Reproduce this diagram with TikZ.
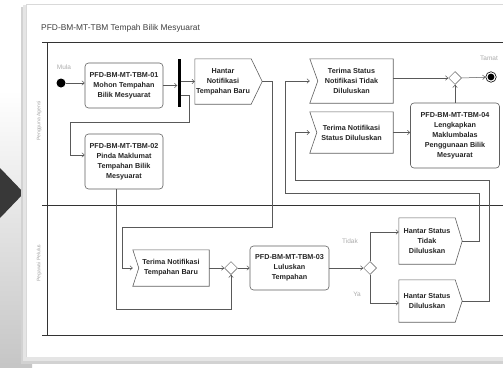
\documentclass[tikz,border=0pt]{standalone}
\usepackage{fontspec}
\setmainfont{Liberation Sans}
\usetikzlibrary{arrows.meta,shapes.geometric}
\tikzset{
  txt/.style={font=\bfseries\fontsize{7.2}{10}\selectfont, text=black!85, align=center, inner sep=0pt},
  actbox/.style={txt, draw=gray!75!black, line width=0.6pt, rounded corners=3.5pt},
  sigbox/.style={txt},
  sigline/.style={draw=gray!75!black, line width=0.6pt},
  flow/.style={draw=gray!70!black, line width=0.5pt, -{Straight Barb[length=2.5pt,width=4.5pt]}},
  merge/.style={diamond, draw=gray!70!black, fill=white, minimum size=13pt, inner sep=0pt, line width=0.5pt},
  lbl/.style={font=\fontsize{6.5}{7}\selectfont, text=gray!65, inner sep=0pt},
  lanelbl/.style={font=\fontsize{5}{6}\selectfont, text=gray!70, inner sep=0pt, rotate=90},
  pool/.style={draw=black!80, line width=0.9pt}
}
\begin{document}
\begin{tikzpicture}[x=1pt,y=-1pt]
\useasboundingbox (0,0) rectangle (503,367);
% background
\fill[white] (0,0) rectangle (503,367);
\shade[top color=white, bottom color=gray!45] (0,90) rectangle (32,367);
\fill[black!78] (0,168) -- (24,193) -- (0,218) -- cycle;
% panel with shadow
\fill[gray!35] (21,7) rectangle (503,364);
\fill[gray!20] (23,5) rectangle (503,361);
\fill[white] (26,4) rectangle (503,357);
\draw[gray!30, line width=0.5pt] (26,357) -- (26,4) -- (503,4);
% title
\node[anchor=west, font=\fontsize{8.4}{10}\selectfont, text=black!75, inner sep=0pt] (title) at (41,28) {PFD-BM-MT-TBM Tempah Bilik Mesyuarat};
% pool lines
\draw[pool] (42,42) -- (503,42);
\draw[pool] (42,205) -- (503,205);
\draw[pool] (42,335) -- (503,335);
\draw[pool] (47,42) -- (47,335);
\node[lanelbl] (lane1) at (39,121) {Pengguna Agensi};
\node[lanelbl] (lane2) at (39,263) {Pegawai Pelulus};
% nodes
\node[circle, fill=black, minimum size=9pt, inner sep=0pt] (start) at (61,83) {};
\node[lbl] (mula) at (64,67) {Mula};
\node[actbox, minimum width=78pt, minimum height=45pt] (n01) at (124,85.5) {PFD-BM-MT-TBM-01\\Mohon Tempahan\\Bilik Mesyuarat};
\node[fill=black, minimum width=3pt, minimum height=48pt, inner sep=0pt] (fork) at (179,83) {};
\node[sigbox, minimum width=56pt, minimum height=45pt] (hn) at (223,81.5) {Hantar\\Notifikasi\\Tempahan Baru};
\coordinate (hntip) at ([xshift=11pt]hn.east);
\draw[sigline] (hn.north west) -- (hn.north east) -- (hntip) -- (hn.south east) -- (hn.south west) -- cycle;
\node[actbox, minimum width=78pt, minimum height=55pt] (n02) at (124,161.5) {PFD-BM-MT-TBM-02\\Pinda Maklumat\\Tempahan Bilik\\Mesyuarat};
\node[sigbox, minimum width=76pt, minimum height=36pt] (tn) at (171,268) {Terima Notifikasi\\Tempahan Baru};
\draw[sigline] (tn.north west) -- (tn.north east) -- (tn.south east) -- (tn.south west) -- ([xshift=6pt]tn.west) -- cycle;
\node[merge] (mg1) at (231,268) {};
\node[actbox, minimum width=79pt, minimum height=44pt] (n03) at (289.5,268) {PFD-BM-MT-TBM-03\\Luluskan\\Tempahan};
\node[merge] (dec) at (370,268) {};
\node[lbl] (tidak) at (350,241) {Tidak};
\node[lbl] (ya) at (357,294) {Ya};
\node[sigbox, minimum width=56pt, minimum height=46pt] (hst) at (427,241) {Hantar Status\\Tidak\\Diluluskan};
\coordinate (hsttip) at ([xshift=7pt]hst.east);
\draw[sigline] (hst.north west) -- (hst.north east) -- (hsttip) -- (hst.south east) -- (hst.south west) -- cycle;
\node[sigbox, minimum width=56pt, minimum height=42pt] (hsd) at (427,301) {Hantar Status\\Diluluskan};
\coordinate (hsdtip) at ([xshift=7pt]hsd.east);
\draw[sigline] (hsd.north west) -- (hsd.north east) -- (hsdtip) -- (hsd.south east) -- (hsd.south west) -- cycle;
\node[sigbox, minimum width=83pt, minimum height=44pt] (tst) at (351.5,81) {Terima Status\\Notifikasi Tidak\\Diluluskan};
\draw[sigline] (tst.north west) -- (tst.north east) -- (tst.south east) -- (tst.south west) -- ([xshift=8pt]tst.west) -- cycle;
\node[sigbox, minimum width=83pt, minimum height=41pt] (tsd) at (351.5,132.5) {Terima Notifikasi\\Status Diluluskan};
\draw[sigline] (tsd.north west) -- (tsd.north east) -- (tsd.south east) -- (tsd.south west) -- ([xshift=7pt]tsd.west) -- cycle;
\node[actbox, minimum width=89pt, minimum height=65pt] (n04) at (455,135.5) {PFD-BM-MT-TBM-04\\Lengkapkan\\Maklumbalas\\Penggunaan Bilik\\Mesyuarat};
\node[merge] (mg2) at (455,78) {};
\node[circle, draw=black, fill=white, line width=0.6pt, minimum size=10.5pt, inner sep=0pt] (end) at (491,77) {};
\fill[black] (end.center) circle (3.4pt);
\node[lbl] (tamat) at (489,58) {Tamat};
% connectors
\draw[flow] (start) -- (start -| n01.west);
\draw[flow] (n01.east) -- (n01.east -| fork.west);
\draw[flow] (fork.east |- hn.west) -- (hn.west);
\draw[flow] ([yshift=-12pt]fork.east) -| (189,122) -| (70,155) -- ([yshift=6.5pt]n02.west);
\draw[flow] (hntip) -| (272,227) -| ([xshift=-11pt]tn.west) -- (tn.west);
\draw[flow] ([xshift=-8pt]n02.south) |- ([yshift=-34pt]mg1.south) -- (mg1.south);
\draw[flow] (tn.east) -- (mg1.west);
\draw[flow] (mg1.east) -- (n03.west);
\draw[flow] (n03.east) -- (dec.west);
\draw[flow] (dec.north) |- ([yshift=9pt]hst.west);
\draw[flow] (dec.south) |- ([yshift=-2pt]hsd.west);
\draw[flow] (hsttip) -| (479,193) -| ([xshift=-25pt]tst.west) -- (tst.west);
\draw[flow] (hsdtip) -| (489,180) -| ([xshift=-15pt]tsd.west) -- (tsd.west);
\draw[flow] (tsd.east) -- (tsd.east -| n04.west);
\draw[flow] (tst.east |- mg2) -- (mg2.west);
\draw[flow] (n04.north) -- (mg2.south);
\draw[flow] (mg2.east) -- (end);
\end{tikzpicture}
\end{document}
